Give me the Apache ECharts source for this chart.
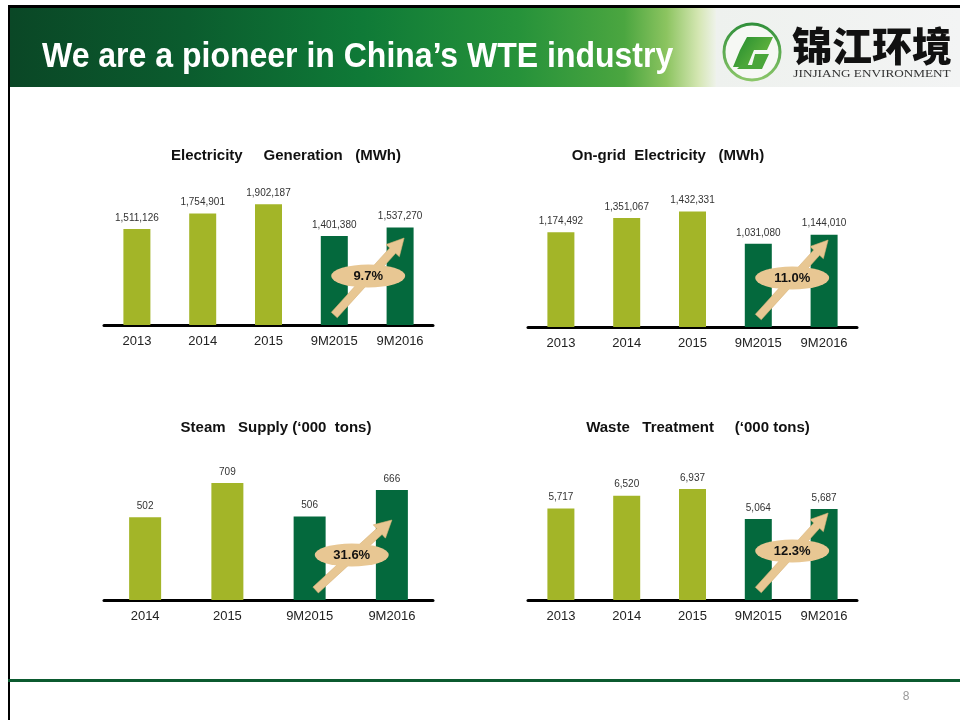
<!DOCTYPE html>
<html>
<head>
<meta charset="utf-8">
<script src="https://cdn.jsdelivr.net/npm/echarts@6/dist/echarts.min.js"></script>
<style>
html,body{margin:0;padding:0;background:#fff;}
#main{width:960px;height:720px;}
</style>
</head>
<body>
<div id="main"></div>
<script>
// ---------- data ----------
const pageTitle = "We are a pioneer in China\u2019s WTE industry";
const logoCn = "锦江环境";
const logoEn = "JINJIANG ENVIRONMENT";
const pageNumber = "8";

const chartTitles = [
  "Electricity     Generation   (MWh)",
  "On-grid  Electricity   (MWh)",
  "Steam   Supply (\u2018000  tons)",
  "Waste   Treatment     (\u2018000 tons)"
];

const catsElec = ["2013", "2014", "2015", "9M2015", "9M2016"];
const elecGen = [1511126, 1754901, 1902187, 1401380, 1537270];

const catsGrid = ["2013", "2014", "2015", "9M2015", "9M2016"];
const onGrid = [1174492, 1351067, 1432331, 1031080, 1144010];

const catsSteam = ["2014", "2015", "9M2015", "9M2016"];
const steam = [502, 709, 506, 666];

const catsWaste = ["2013", "2014", "2015", "9M2015", "9M2016"];
const waste = [5717, 6520, 6937, 5064, 5687];

const growth = ["9.7%", "11.0%", "31.6%", "12.3%"];

// ---------- styling / layout ----------
const LIGHT = "#a3b528";
const DARK = "#04693d";
const TAN = "#e8c793";

const panels = [
  { cats: catsElec, vals: elecGen, left: 104, top: 198, height: 127, max: 2000000, bw: 27, tx: 286, ty: 156 },
  { cats: catsGrid, vals: onGrid, left: 528, top: 206, height: 121, max: 1500000, bw: 27, tx: 668, ty: 156 },
  { cats: catsSteam, vals: steam, left: 104, top: 468, height: 132, max: 800, bw: 32, tx: 276, ty: 428 },
  { cats: catsWaste, vals: waste, left: 528, top: 472, height: 128, max: 8000, bw: 27, tx: 698, ty: 428 }
];

const chart = echarts.init(document.getElementById("main"), null, { renderer: "canvas" });

const fmt = v => Number(v).toLocaleString("en-US");

const option = {
  animation: false,
  backgroundColor: "#ffffff",
  grid: panels.map(p => ({ left: p.left, top: p.top, width: 329, height: p.height, containLabel: false })),
  xAxis: panels.map((p, i) => ({
    type: "category",
    gridIndex: i,
    data: p.cats,
    axisLine: { show: true, lineStyle: { color: "#000", width: 3 } },
    axisTick: { show: false },
    axisLabel: { color: "#222", fontSize: 13, fontFamily: "Liberation Sans, Arial", margin: 10 },
    splitLine: { show: false }
  })),
  yAxis: panels.map((p, i) => ({
    type: "value",
    gridIndex: i,
    min: 0,
    max: p.max,
    show: false,
    splitLine: { show: false }
  })),
  series: panels.map((p, i) => ({
    type: "bar",
    xAxisIndex: i,
    yAxisIndex: i,
    data: p.vals,
    barWidth: p.bw,
    itemStyle: {
      color: params => (String(params.name).indexOf("9M") === 0 ? DARK : LIGHT)
    },
    label: {
      show: true,
      position: "top",
      distance: 6,
      fontSize: 10,
      color: "#333",
      fontFamily: "Liberation Sans, Arial",
      formatter: params => fmt(params.value)
    }
  }))
};

chart.setOption(option);

// ---------- decorations ----------
function arrowPoints(x1, y1, x2, y2, hw, headLen, headHW) {
  const dx = x2 - x1, dy = y2 - y1;
  const len = Math.sqrt(dx * dx + dy * dy);
  const ux = dx / len, uy = dy / len;
  const nx = -uy, ny = ux;
  const neckX = x2 - ux * headLen, neckY = y2 - uy * headLen;
  return [
    [x1 + nx * hw, y1 + ny * hw],
    [neckX + nx * hw, neckY + ny * hw],
    [neckX + nx * headHW, neckY + ny * headHW],
    [x2, y2],
    [neckX - nx * headHW, neckY - ny * headHW],
    [neckX - nx * hw, neckY - ny * hw],
    [x1 - nx * hw, y1 - ny * hw]
  ];
}

const g = [];

// top and left black borders
g.push({ type: "rect", shape: { x: 8, y: 5, width: 952, height: 3 }, style: { fill: "#000" }, z: 50 });
g.push({ type: "rect", shape: { x: 8, y: 5, width: 2, height: 715 }, style: { fill: "#000" }, z: 50 });

// header band
g.push({
  type: "rect",
  shape: { x: 10, y: 8, width: 706, height: 79 },
  style: {
    fill: new echarts.graphic.LinearGradient(0, 0, 1, 0, [
      { offset: 0, color: "#0a4726" },
      { offset: 0.25, color: "#0b5c2e" },
      { offset: 0.5, color: "#0f7a37" },
      { offset: 0.72, color: "#26923a" },
      { offset: 0.87, color: "#4ba640" },
      { offset: 0.93, color: "#8cc460" },
      { offset: 0.975, color: "#d4e6b2" },
      { offset: 1, color: "#eef2ea" }
    ])
  },
  z: 40
});
// logo background
g.push({
  type: "rect",
  shape: { x: 716, y: 8, width: 244, height: 79 },
  style: {
    fill: new echarts.graphic.LinearGradient(0, 0, 1, 0, [
      { offset: 0, color: "#eef1ee" },
      { offset: 1, color: "#f3f4f4" }
    ])
  },
  z: 40
});
// header title
g.push({
  type: "text",
  x: 42, y: 57,
  scaleY: 1.08,
  style: {
    text: pageTitle,
    fill: "#ffffff",
    font: "bold 32px 'Liberation Sans', Arial, sans-serif",
    textAlign: "left",
    textVerticalAlign: "middle"
  },
  z: 60
});

// logo mark
g.push({
  type: "circle",
  shape: { cx: 752, cy: 52, r: 28 },
  style: {
    fill: "#f6f8f4",
    stroke: new echarts.graphic.LinearGradient(0, 0, 0, 1, [
      { offset: 0, color: "#2f8f3a" },
      { offset: 1, color: "#8cc76a" }
    ]),
    lineWidth: 3
  },
  z: 60
});
g.push({
  type: "polygon",
  shape: { points: [[747, 37], [773, 37], [767, 50], [754, 50], [747, 67], [733, 67], [740, 50]] },
  style: {
    fill: new echarts.graphic.LinearGradient(0, 0, 1, 1, [
      { offset: 0, color: "#1f8a2e" },
      { offset: 1, color: "#76c043" }
    ])
  },
  z: 61
});
g.push({
  type: "polygon",
  shape: { points: [[755, 54], [769, 54], [762, 69], [737, 69], [741, 65], [752, 65]] },
  style: { fill: "#4aa63a" },
  z: 61
});
g.push({
  type: "text",
  x: 872, y: 46,
  style: {
    text: logoCn,
    fill: "#111",
    font: "900 40px 'Noto Sans CJK SC', sans-serif",
    textAlign: "center",
    textVerticalAlign: "middle"
  },
  z: 60
});
g.push({
  type: "text",
  x: 872, y: 74,
  scaleX: 1.2,
  style: {
    text: logoEn,
    fill: "#333",
    font: "11px 'Liberation Serif', 'DejaVu Serif', serif",
    textAlign: "center",
    textVerticalAlign: "middle"
  },
  z: 60
});

// footer
g.push({ type: "rect", shape: { x: 8, y: 679, width: 952, height: 3 }, style: { fill: "#0b5a2f" }, z: 50 });
g.push({
  type: "text",
  x: 906, y: 697,
  style: { text: pageNumber, fill: "#999", font: "12px 'Liberation Sans', Arial", textAlign: "center", textVerticalAlign: "middle" },
  z: 60
});

// chart titles and growth badges
panels.forEach((p, i) => {
  g.push({
    type: "text",
    x: p.tx, y: p.ty,
    style: {
      text: chartTitles[i],
      fill: "#111",
      font: "bold 15px 'Liberation Sans', Arial",
      textAlign: "center",
      textVerticalAlign: "middle"
    },
    z: 60
  });
  const n = p.cats.length;
  const a = chart.convertToPixel({ gridIndex: i }, [n - 2, 0]);
  const b = chart.convertToPixel({ gridIndex: i }, [n - 1, 0]);
  const base = a[1];
  const big = n === 4;
  const sx = a[0] + (big ? 6 : 0), sy = base - 10;
  const ex = b[0] + (big ? 0 : 4), ey = base - (big ? 80 : 87);
  g.push({
    type: "polygon",
    shape: { points: arrowPoints(sx, sy, ex, ey, 4, 17, 9) },
    style: { fill: TAN, stroke: "#d6b176", lineWidth: 0.6 },
    z: 70
  });
  const cx = (a[0] + b[0]) / 2 + 1;
  const cy = base - (big ? 45 : 49);
  g.push({
    type: "circle",
    x: cx, y: cy,
    scaleY: 11.5 / 37,
    shape: { cx: 0, cy: 0, r: 37 },
    style: { fill: TAN },
    z: 71
  });
  g.push({
    type: "text",
    x: cx, y: cy,
    style: {
      text: growth[i],
      fill: "#111",
      font: "bold 13px 'Liberation Sans', Arial",
      textAlign: "center",
      textVerticalAlign: "middle"
    },
    z: 72
  });
});

chart.setOption({ graphic: { elements: g } });
</script>
</body>
</html>
